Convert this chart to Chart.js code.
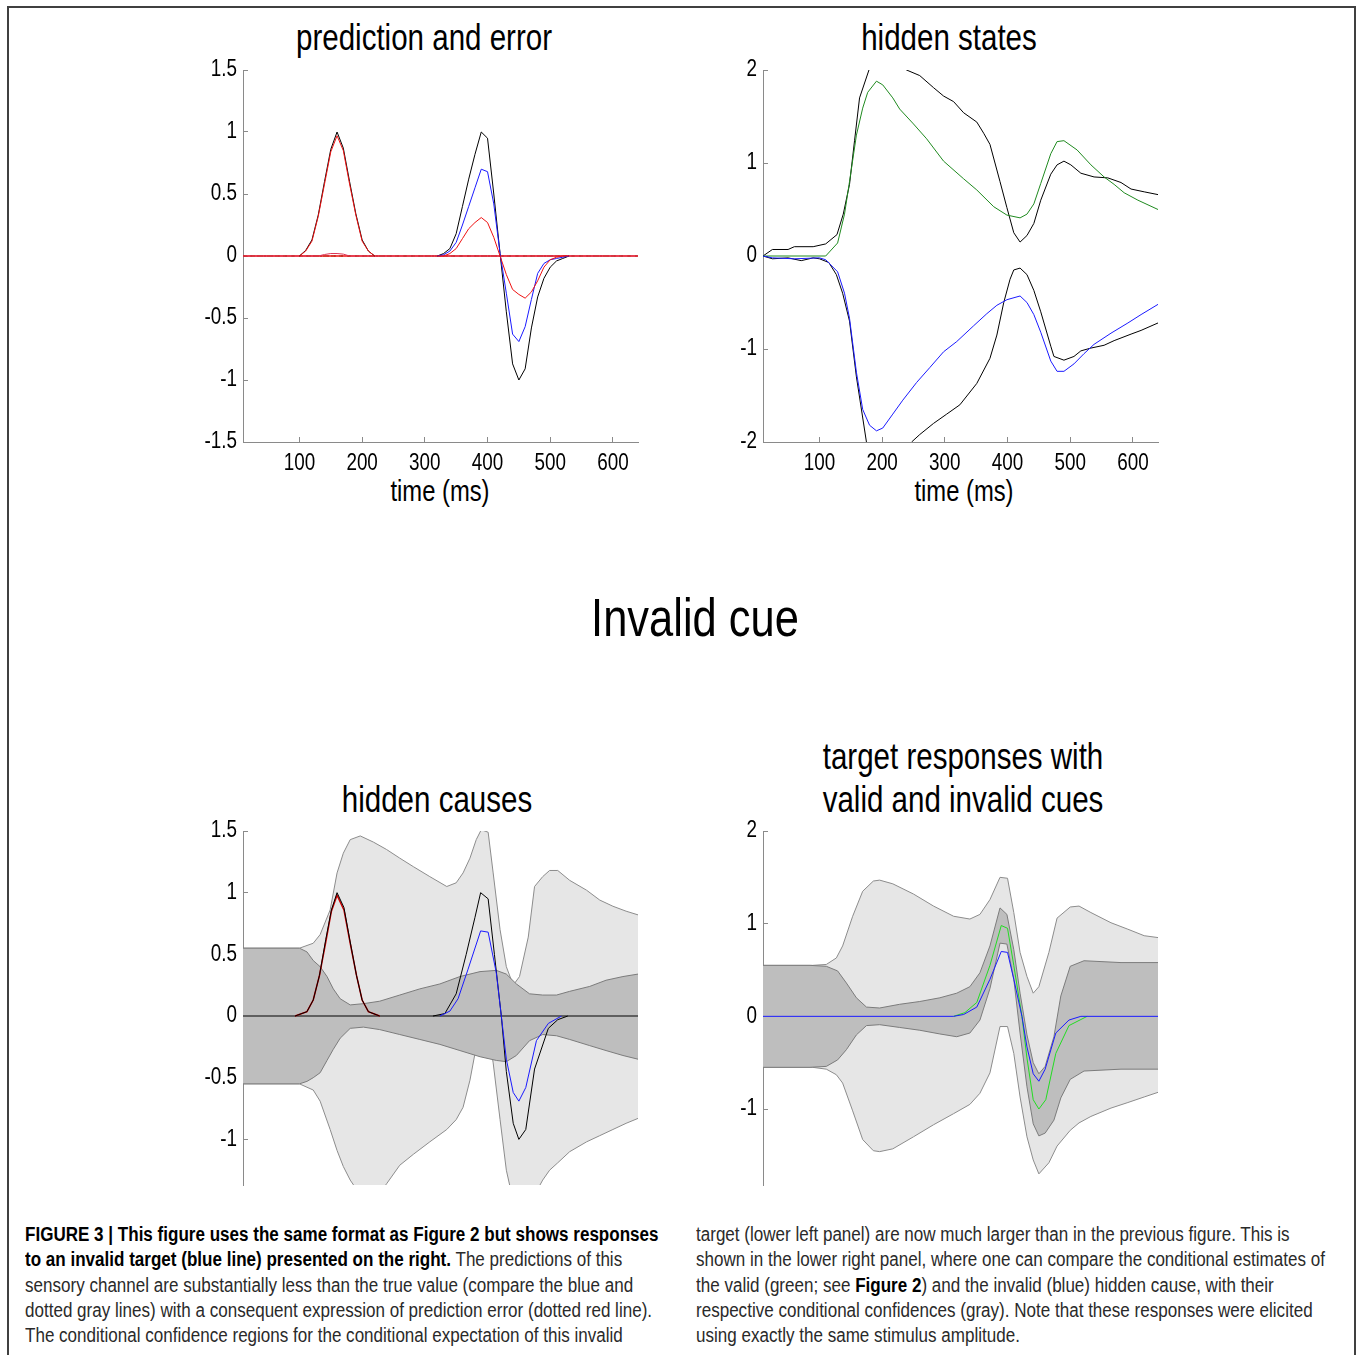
<!DOCTYPE html>
<html>
<head>
<meta charset="utf-8">
<script src="https://cdn.jsdelivr.net/npm/chart.js@4.4.1/dist/chart.umd.min.js"></script>
<style>
  body { margin: 0; width: 1356px; height: 1355px; position: relative; overflow: hidden; background: #fff;
         font-family: "Liberation Sans", Arial, sans-serif; color: #000; }
  .frame { position: absolute; left: 7px; top: 6px; width: 1345px; height: 1400px; border: 2px solid #404040; border-bottom: none; }
  .txt { position: absolute; white-space: nowrap; line-height: 1; transform: translateX(-50%) scaleX(0.82); }
  .panel { position: absolute; }
  .cap { position: absolute; white-space: nowrap; font-size: 20px; line-height: 1; color: #2a2a2a;
         transform: scaleX(0.852); transform-origin: 0 0; }
  .cap b { color: #000; }
</style>
</head>
<body>
<div class="frame"></div>

<div class="txt" style="left:424px; top:20px; font-size:36px;">prediction and error</div>
<div class="txt" style="left:949px; top:20px; font-size:36px;">hidden states</div>
<div class="txt" style="left:440px; top:477px; font-size:29px;">time (ms)</div>
<div class="txt" style="left:964px; top:477px; font-size:29px;">time (ms)</div>
<div class="txt" style="left:695px; top:591px; font-size:53px;">Invalid cue</div>
<div class="txt" style="left:437px; top:782px; font-size:36px;">hidden causes</div>
<div class="txt" style="left:963px; top:739px; font-size:36px;">target responses with</div>
<div class="txt" style="left:963px; top:782px; font-size:36px;">valid and invalid cues</div>

<div class="panel" id="w1"><canvas id="c1"></canvas></div>
<div class="panel" id="w2"><canvas id="c2"></canvas></div>
<div class="panel" id="w3"><canvas id="c3"></canvas></div>
<div class="panel" id="w4"><canvas id="c4"></canvas></div>

<div class="cap" style="left:25px; top:1224px;"><b>FIGURE 3 | This figure uses the same format as Figure 2 but shows responses</b></div>
<div class="cap" style="left:25px; top:1249px;"><b>to an invalid target (blue line) presented on the right.</b> The predictions of this</div>
<div class="cap" style="left:25px; top:1275px;">sensory channel are substantially less than the true value (compare the blue and</div>
<div class="cap" style="left:25px; top:1300px;">dotted gray lines) with a consequent expression of prediction error (dotted red line).</div>
<div class="cap" style="left:25px; top:1325px;">The conditional confidence regions for the conditional expectation of this invalid</div>
<div class="cap" style="left:696px; top:1224px;">target (lower left panel) are now much larger than in the previous figure. This is</div>
<div class="cap" style="left:696px; top:1249px;">shown in the lower right panel, where one can compare the conditional estimates of</div>
<div class="cap" style="left:696px; top:1275px;">the valid (green; see <b>Figure 2</b>) and the invalid (blue) hidden cause, with their</div>
<div class="cap" style="left:696px; top:1300px;">respective conditional confidences (gray). Note that these responses were elicited</div>
<div class="cap" style="left:696px; top:1325px;">using exactly the same stimulus amplitude.</div>

<script>
// --- шкалы ---
const timeTicks = [100, 200, 300, 400, 500, 600];
const p1Ticks = [-1.5, -1, -0.5, 0, 0.5, 1, 1.5];
const p2Ticks = [-2, -1, 0, 1, 2];
const p3Ticks = [-1, -0.5, 0, 0.5, 1, 1.5];
const p4Ticks = [-1, 0, 1, 2];

// --- prediction and error ---
const p1TimeA = [100, 110, 120, 130, 140, 150, 160, 170, 180, 190, 200, 210, 220];
const p1BlackA = [0, 0.045, 0.13, 0.33, 0.6, 0.86, 1.0, 0.87, 0.6, 0.34, 0.13, 0.04, 0];
const p1RedA = [0, 0.04, 0.12, 0.32, 0.58, 0.84, 0.97, 0.85, 0.58, 0.33, 0.12, 0.04, 0];
const p1TimeB = [320, 330, 340, 350, 360, 370, 380, 390, 400, 410, 420, 430, 440, 450, 460, 470, 480, 490, 500, 510, 520, 530];
const p1BlackB = [0, 0.02, 0.06, 0.18, 0.4, 0.62, 0.82, 1.0, 0.95, 0.5, 0.02, -0.45, -0.87, -1.0, -0.91, -0.58, -0.33, -0.18, -0.09, -0.04, -0.02, 0];
const p1BlueB = [0, 0.01, 0.04, 0.11, 0.25, 0.4, 0.55, 0.7, 0.68, 0.42, 0.02, -0.3, -0.63, -0.69, -0.57, -0.35, -0.14, -0.06, -0.03, -0.02, -0.01, 0];
const p1RedB = [0, 0, 0.02, 0.06, 0.14, 0.22, 0.27, 0.31, 0.27, 0.15, 0, -0.15, -0.27, -0.31, -0.34, -0.29, -0.2, -0.09, -0.03, -0.01, 0, 0];
const p1TimeSmall = [10, 130, 140, 150, 160, 170, 180, 640];
const p1Small = [0, 0, 0.012, 0.02, 0.02, 0.015, 0, 0];
const zeroTime = [10, 640];
const zeroLine = [0, 0];

// --- hidden states ---
const p2TimeBlackUp = [10, 25, 50, 60, 90, 110, 128, 138, 148, 156, 164, 179, 190, 215, 239, 260, 282, 298, 314, 330, 351, 362, 372, 388, 399, 410, 420, 431, 442, 453, 469, 479, 490, 501, 517, 538, 560, 581, 597, 618, 640];
const p2BlackUp = [0, 0.07, 0.07, 0.1, 0.1, 0.13, 0.23, 0.45, 0.77, 1.24, 1.7, 2.0, 2.25, 2.12, 2.0, 1.94, 1.81, 1.72, 1.66, 1.54, 1.44, 1.32, 1.2, 0.8, 0.52, 0.25, 0.15, 0.22, 0.35, 0.6, 0.88, 0.98, 1.02, 0.98, 0.89, 0.85, 0.84, 0.79, 0.72, 0.69, 0.66];
const p2TimeGreen = [10, 110, 129, 140, 148, 159, 169, 177, 191, 201, 217, 228, 250, 271, 298, 330, 351, 378, 399, 420, 431, 442, 453, 469, 479, 490, 511, 533, 554, 570, 586, 608, 640];
const p2Green = [0, 0, 0.14, 0.45, 0.8, 1.3, 1.59, 1.76, 1.88, 1.84, 1.7, 1.58, 1.42, 1.26, 1.02, 0.83, 0.71, 0.53, 0.44, 0.41, 0.45, 0.56, 0.78, 1.1, 1.23, 1.24, 1.14, 0.98, 0.85, 0.77, 0.68, 0.6, 0.5];
const p2TimeBlackLo = [10, 25, 50, 71, 90, 100, 115, 127, 137, 148, 159, 175, 195, 225, 247, 260, 282, 303, 324, 351, 372, 383, 394, 404, 410, 420, 431, 442, 453, 469, 474, 490, 506, 517, 533, 554, 570, 597, 613, 640];
const p2BlackLo = [0, -0.03, -0.02, -0.05, -0.02, -0.03, -0.07, -0.2, -0.4, -0.7, -1.3, -2.0, -2.5, -2.3, -2.0, -1.92, -1.8, -1.7, -1.6, -1.37, -1.1, -0.85, -0.5, -0.25, -0.15, -0.13, -0.2, -0.37, -0.6, -0.97, -1.08, -1.12, -1.08, -1.02, -0.99, -0.96, -0.91, -0.84, -0.8, -0.72];
const p2TimeBlue = [10, 25, 60, 100, 110, 129, 140, 148, 159, 169, 180, 191, 201, 217, 233, 255, 276, 298, 319, 346, 367, 383, 399, 420, 431, 442, 453, 469, 479, 490, 506, 522, 538, 565, 592, 613, 640];
const p2Blue = [0, -0.02, -0.03, -0.02, -0.04, -0.17, -0.4, -0.67, -1.25, -1.65, -1.82, -1.88, -1.85, -1.7, -1.55, -1.36, -1.2, -1.03, -0.92, -0.75, -0.62, -0.53, -0.47, -0.43, -0.5, -0.63, -0.82, -1.13, -1.24, -1.24, -1.16, -1.05, -0.95, -0.83, -0.72, -0.63, -0.52];

// --- hidden causes ---
const p3TimeLight = [10, 100, 122, 133, 149, 160, 170, 181, 197, 218, 239, 260, 282, 308, 335, 350, 361, 372, 382, 390, 401, 409, 420, 430, 441, 451, 465, 475, 488, 499, 512, 531, 558, 579, 600, 621, 640];
const p3LightUp = [0.55, 0.55, 0.59, 0.66, 0.86, 1.16, 1.32, 1.43, 1.46, 1.41, 1.35, 1.28, 1.21, 1.13, 1.05, 1.08, 1.16, 1.28, 1.43, 1.51, 1.49, 1.16, 0.7, 0.4, 0.25, 0.32, 0.64, 1.05, 1.13, 1.18, 1.18, 1.1, 1.02, 0.94, 0.89, 0.85, 0.82];
const p3LightLo = [-0.55, -0.55, -0.6, -0.69, -0.92, -1.09, -1.22, -1.33, -1.45, -1.5, -1.36, -1.21, -1.12, -1.02, -0.92, -0.84, -0.74, -0.52, -0.25, -0.11, -0.11, -0.38, -0.84, -1.25, -1.5, -1.6, -1.55, -1.45, -1.33, -1.25, -1.19, -1.1, -1.02, -0.97, -0.92, -0.87, -0.83];
const p3TimeDark = [10, 100, 112, 122, 133, 144, 154, 165, 181, 202, 228, 260, 292, 324, 356, 388, 414, 430, 446, 467, 488, 510, 531, 563, 589, 616, 640];
const p3DarkUp = [0.55, 0.55, 0.52, 0.45, 0.4, 0.32, 0.22, 0.14, 0.09, 0.1, 0.12, 0.17, 0.22, 0.26, 0.32, 0.36, 0.37, 0.34, 0.26, 0.18, 0.17, 0.17, 0.2, 0.24, 0.29, 0.32, 0.34];
const p3DarkLo = [-0.55, -0.55, -0.53, -0.5, -0.46, -0.36, -0.27, -0.18, -0.1, -0.09, -0.11, -0.15, -0.19, -0.23, -0.28, -0.33, -0.36, -0.37, -0.32, -0.2, -0.15, -0.16, -0.19, -0.24, -0.28, -0.32, -0.35];
const p3TimeA = [93, 112, 122, 132, 142, 151, 160, 171, 181, 191, 200, 210, 228];
const p3BlackA = [0, 0.035, 0.13, 0.33, 0.62, 0.86, 1.0, 0.88, 0.6, 0.33, 0.13, 0.035, 0];
const p3RedA = [0, 0.035, 0.13, 0.33, 0.6, 0.85, 0.98, 0.86, 0.59, 0.33, 0.13, 0.035, 0];
const p3TimeBlack = [313, 332, 350, 366, 380, 389, 401, 411, 422, 430, 441, 450, 461, 475, 497, 512, 528];
const p3Black = [0, 0.02, 0.18, 0.5, 0.8, 1.0, 0.95, 0.5, 0, -0.45, -0.87, -1.0, -0.92, -0.43, -0.1, -0.03, 0];
const p3TimeBlue = [324, 340, 353, 369, 389, 401, 414, 422, 430, 441, 450, 461, 478, 497, 518];
const p3Blue = [0, 0.04, 0.14, 0.38, 0.69, 0.68, 0.35, 0, -0.35, -0.62, -0.69, -0.58, -0.2, -0.06, 0];

// --- target responses ---
const p4TimeLight = [10, 89, 111, 127, 137, 153, 169, 186, 196, 217, 250, 282, 314, 340, 356, 372, 388, 400, 410, 420, 431, 441, 450, 466, 479, 500, 514, 533, 565, 592, 618, 640];
const p4LightUp = [0.55, 0.55, 0.56, 0.63, 0.76, 1.08, 1.35, 1.46, 1.47, 1.43, 1.32, 1.19, 1.08, 1.05, 1.1, 1.26, 1.5, 1.49, 1.12, 0.69, 0.43, 0.25, 0.32, 0.69, 1.06, 1.18, 1.19, 1.12, 1.01, 0.94, 0.87, 0.85];
const p4LightLo = [-0.55, -0.55, -0.57, -0.63, -0.72, -1.02, -1.33, -1.45, -1.46, -1.43, -1.3, -1.17, -1.05, -0.95, -0.83, -0.61, -0.11, -0.11, -0.4, -0.87, -1.3, -1.55, -1.7, -1.58, -1.4, -1.23, -1.15, -1.08, -0.99, -0.93, -0.87, -0.82];
const p4TimeDark = [10, 85, 111, 129, 143, 159, 175, 196, 228, 260, 292, 319, 340, 356, 372, 388, 399, 410, 420, 431, 441, 450, 460, 474, 485, 500, 522, 581, 640];
const p4DarkUp = [0.55, 0.55, 0.54, 0.49, 0.36, 0.2, 0.1, 0.09, 0.13, 0.16, 0.2, 0.25, 0.32, 0.47, 0.76, 1.17, 1.1, 0.72, 0.25, -0.2, -0.5, -0.62, -0.54, -0.22, 0.22, 0.54, 0.6, 0.58, 0.58];
const p4DarkLo = [-0.55, -0.55, -0.54, -0.47, -0.36, -0.2, -0.1, -0.09, -0.12, -0.15, -0.19, -0.22, -0.18, -0.04, 0.3, 0.79, 0.78, 0.4, -0.18, -0.76, -1.16, -1.29, -1.26, -1.12, -0.88, -0.68, -0.59, -0.57, -0.57];
const p4TimeBlue = [10, 314, 330, 351, 372, 390, 400, 410, 423, 431, 441, 450, 460, 477, 498, 517, 640];
const p4Blue = [0, 0, 0.02, 0.1, 0.4, 0.7, 0.69, 0.4, 0, -0.33, -0.62, -0.7, -0.57, -0.18, -0.04, 0, 0];
const p4TimeGreen = [314, 332, 351, 372, 390, 400, 410, 423, 431, 441, 450, 461, 477, 498, 527];
const p4Green = [0, 0.04, 0.15, 0.55, 0.98, 0.95, 0.55, 0, -0.45, -0.9, -1.0, -0.9, -0.4, -0.1, 0];

Chart.defaults.font.family = "'Liberation Sans', Arial, sans-serif";
Chart.defaults.color = '#000';

const AXIS_W = 60;     // ширина оси Y
const PAD_T = 28;      // отступ сверху
const PAD_R = 26;      // отступ справа
const NARROW = 0.82;   // сжатие подписей (узкий шрифт)

// подписи делений рисуем сжатыми по горизонтали
const narrowText = {
    id: 'narrowText',
    beforeDraw(chart) {
        const ctx = chart.ctx;
        const fill = CanvasRenderingContext2D.prototype.fillText;
        ctx.fillText = function(text, x, y) {
            this.save();
            this.scale(NARROW, 1);
            fill.call(this, text, x / NARROW, y);
            this.restore();
        };
    },
    afterDraw(chart) {
        delete chart.ctx.fillText;
    }
};

function pts(t, v) {
    return t.map((x, i) => ({x: x, y: v[i]}));
}

function line(t, v, color, width, dash) {
    return {
        data: pts(t, v), borderColor: color, borderWidth: width || 1,
        borderDash: dash || [], pointRadius: 0, fill: false, order: 0
    };
}

// нижняя граница + верхняя граница с заливкой до нижней
function band(t, up, lo, fillColor, edgeColor, order) {
    return [
        {data: pts(t, lo), borderColor: edgeColor, borderWidth: 1, pointRadius: 0, fill: false, order: order},
        {data: pts(t, up), borderColor: edgeColor, borderWidth: 1, pointRadius: 0,
         fill: '-1', backgroundColor: fillColor, order: order}
    ];
}

function makePanel(id, box, yMin, yMax, yTicks, showX, datasets) {
    const xH = showX ? 40 : 0;
    const padB = showX ? 0 : 28;
    const wrap = document.getElementById('w' + id);
    wrap.style.left = (box.left - AXIS_W) + 'px';
    wrap.style.top = (box.top - PAD_T) + 'px';
    wrap.style.width = (AXIS_W + box.width + PAD_R) + 'px';
    wrap.style.height = (PAD_T + box.height + xH + padB) + 'px';

    return new Chart(document.getElementById('c' + id), {
        type: 'line',
        data: {datasets: datasets},
        plugins: [narrowText],
        options: {
            responsive: true,
            maintainAspectRatio: false,
            animation: false,
            layout: {padding: {left: 0, top: PAD_T, right: PAD_R, bottom: padB}},
            plugins: {legend: {display: false}, tooltip: {enabled: false}},
            scales: {
                x: {
                    type: 'linear', min: 10, max: 640, display: showX,
                    afterBuildTicks: s => { s.ticks = timeTicks.map(v => ({value: v})); },
                    afterFit: s => { s.height = xH; },
                    grid: {drawOnChartArea: false, tickLength: -5, color: '#8a8a8a'},
                    border: {color: '#8a8a8a'},
                    ticks: {font: {size: 23}, padding: 13, maxRotation: 0, callback: v => String(v)}
                },
                y: {
                    type: 'linear', min: yMin, max: yMax,
                    afterBuildTicks: s => { s.ticks = yTicks.map(v => ({value: v})); },
                    afterFit: s => { s.width = AXIS_W; },
                    grid: {drawOnChartArea: false, tickLength: -5, color: '#8a8a8a'},
                    border: {color: '#8a8a8a'},
                    ticks: {font: {size: 23}, padding: 11, callback: v => String(v)}
                }
            }
        }
    });
}

// верхний левый
makePanel(1, {left: 243, top: 70, width: 395, height: 372}, -1.5, 1.5, p1Ticks, true, [
    line(p1TimeB, p1RedB, '#ee1111'),
    line(p1TimeA, p1RedA, '#ee1111'),
    line(p1TimeB, p1BlueB, '#1a1aff'),
    line(p1TimeB, p1BlackB, '#000'),
    line(p1TimeA, p1BlackA, '#000'),
    line(p1TimeSmall, p1Small, '#dd3355'),
    line(zeroTime, zeroLine, '#ee1111', 1.5),
    line(zeroTime, zeroLine, '#228b22', 1, [4, 4]),
    line(zeroTime, zeroLine, '#333', 1, [2, 5])
]);

// верхний правый
makePanel(2, {left: 763, top: 70, width: 395, height: 372}, -2, 2, p2Ticks, true, [
    line(p2TimeBlue, p2Blue, '#1a1aff'),
    line(p2TimeGreen, p2Green, '#1f8a1f'),
    line(p2TimeBlackUp, p2BlackUp, '#000'),
    line(p2TimeBlackLo, p2BlackLo, '#000')
]);

// нижний левый
makePanel(3, {left: 243, top: 831, width: 395, height: 354}, -1.37, 1.5, p3Ticks, false, [
    line(p3TimeBlue, p3Blue, '#1a1aff'),
    line(p3TimeBlack, p3Black, '#000'),
    line(p3TimeA, p3BlackA, '#000'),
    line(p3TimeA, p3RedA, '#cc0000', 1.5),
    line(zeroTime, zeroLine, '#000', 1.2),
    ...band(p3TimeDark, p3DarkUp, p3DarkLo, '#bebebe', '#7c7c7c', 1),
    ...band(p3TimeLight, p3LightUp, p3LightLo, '#e6e6e6', '#8c8c8c', 2)
]);

// нижний правый
makePanel(4, {left: 763, top: 831, width: 395, height: 354}, -1.82, 2, p4Ticks, false, [
    line(p4TimeBlue, p4Blue, '#1a1aff'),
    line(p4TimeGreen, p4Green, '#22dd22'),
    ...band(p4TimeDark, p4DarkUp, p4DarkLo, '#bebebe', '#7c7c7c', 1),
    ...band(p4TimeLight, p4LightUp, p4LightLo, '#e6e6e6', '#8c8c8c', 2)
]);
</script>
</body>
</html>
